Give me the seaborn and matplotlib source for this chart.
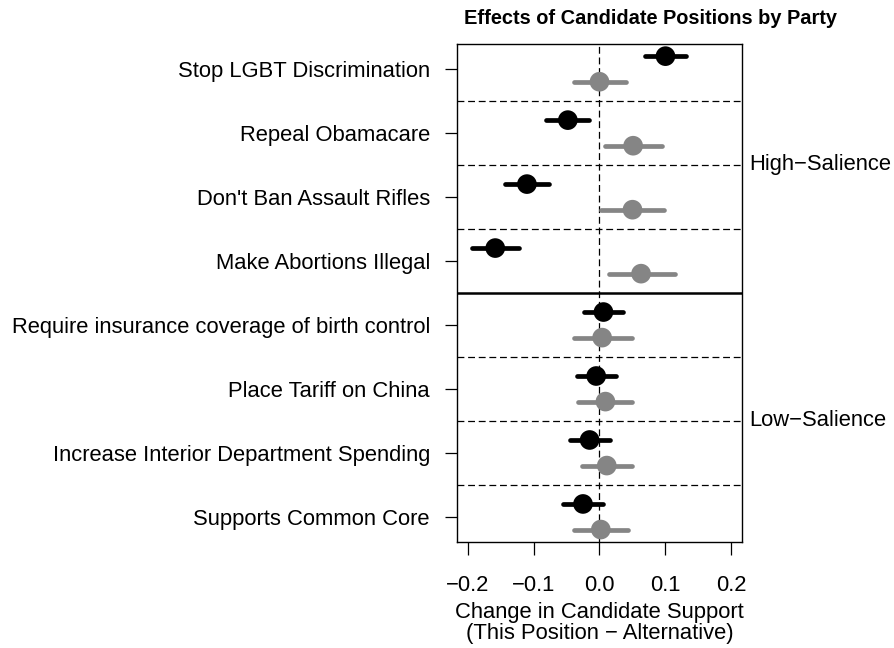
import numpy as np
import pandas as pd
import matplotlib
matplotlib.use("Agg")
import matplotlib.pyplot as plt
import seaborn as sns

# Policy positions, top to bottom
positions = [
    "Stop LGBT Discrimination",
    "Repeal Obamacare",
    "Don't Ban Assault Rifles",
    "Make Abortions Illegal",
    "Require insurance coverage of birth control",
    "Place Tariff on China",
    "Increase Interior Department Spending",
    "Supports Common Core",
]

# Estimated effects and 95% interval bounds, first party (black)
est_a = [0.100, -0.048, -0.110, -0.158, 0.006, -0.005, -0.015, -0.025]
lo_a = [0.069, -0.081, -0.143, -0.193, -0.023, -0.034, -0.045, -0.055]
hi_a = [0.131, -0.016, -0.076, -0.122, 0.035, 0.025, 0.016, 0.006]

# Second party (gray)
est_b = [0.000, 0.051, 0.050, 0.063, 0.004, 0.009, 0.011, 0.002]
lo_b = [-0.038, 0.008, 0.002, 0.014, -0.038, -0.033, -0.027, -0.038]
hi_b = [0.040, 0.094, 0.098, 0.115, 0.049, 0.049, 0.049, 0.043]

x_ticks = [-0.2, -0.1, 0.0, 0.1, 0.2]
group_labels = ["High\u2212Salience", "Low\u2212Salience"]

n = len(positions)
idx = np.arange(n)
df = pd.concat([
    pd.DataFrame({"pos": idx - 0.2, "est": est_a, "lo": lo_a, "hi": hi_a, "party": "A"}),
    pd.DataFrame({"pos": idx + 0.2, "est": est_b, "lo": lo_b, "hi": hi_b, "party": "B"}),
], ignore_index=True)

sns.set_style("white")
plt.rcParams["font.family"] = ["Liberation Sans", "DejaVu Sans"]
plt.rcParams["text.color"] = "black"
plt.rcParams["xtick.color"] = "black"
plt.rcParams["ytick.color"] = "black"
plt.rcParams["axes.labelcolor"] = "black"

FS = 15.8
colors = {"A": "#000000", "B": "#858585"}

fig = plt.figure(figsize=(8.95, 6.48), dpi=100)
ax = fig.add_axes([457 / 895, 1 - 541.7 / 648, (742 - 457) / 895, (541.7 - 44) / 648])

# Reference lines
ax.axvline(0, color="black", lw=0.9, ls=(0, (5.5, 3)), zorder=1)
for b in [0.5, 1.5, 2.5, 4.5, 5.5, 6.5]:
    ax.axhline(b, color="black", lw=0.9, ls=(0, (5.5, 3)), zorder=1)
ax.axhline(3.5, color="black", lw=1.8, zorder=1)

# Confidence intervals
for party, sub in df.groupby("party"):
    ax.hlines(sub["pos"], sub["lo"], sub["hi"], color=colors[party], lw=3.4,
              capstyle="round", zorder=2)

sns.scatterplot(data=df, x="est", y="pos", hue="party", palette=colors,
                s=200, linewidth=0, legend=False, ax=ax, zorder=3)

ax.set_xlim(-0.216, 0.216)
ax.set_ylim(7.39, -0.39)
ax.set_xticks(x_ticks)
ax.set_xticklabels([f"{t:.1f}".replace("-", "\u2212") for t in x_ticks], fontsize=FS)
ax.set_yticks(idx)
ax.set_yticklabels(positions, fontsize=FS)
ax.tick_params(axis="both", direction="out", length=9, width=0.9, color="black",
               left=True, bottom=True)
ax.tick_params(axis="y", pad=10.5)
ax.tick_params(axis="x", pad=15)
for s in ax.spines.values():
    s.set_color("black")
    s.set_linewidth(1.0)

ax.set_xlabel("Change in Candidate Support\n(This Position \u2212 Alternative)", fontsize=FS,
              linespacing=1.05, labelpad=4)
ax.set_ylabel("")

ax.text(1.025, 1.5, group_labels[0], transform=ax.get_yaxis_transform(),
        fontsize=FS, va="center", ha="left")
ax.text(1.025, 5.5, group_labels[1], transform=ax.get_yaxis_transform(),
        fontsize=FS, va="center", ha="left")

fig.text(651 / 895, 1 - 18 / 648, "Effects of Candidate Positions by Party",
         fontsize=14.4, fontweight="bold", ha="center", va="center")

fig.savefig("out.png", dpi=100)
